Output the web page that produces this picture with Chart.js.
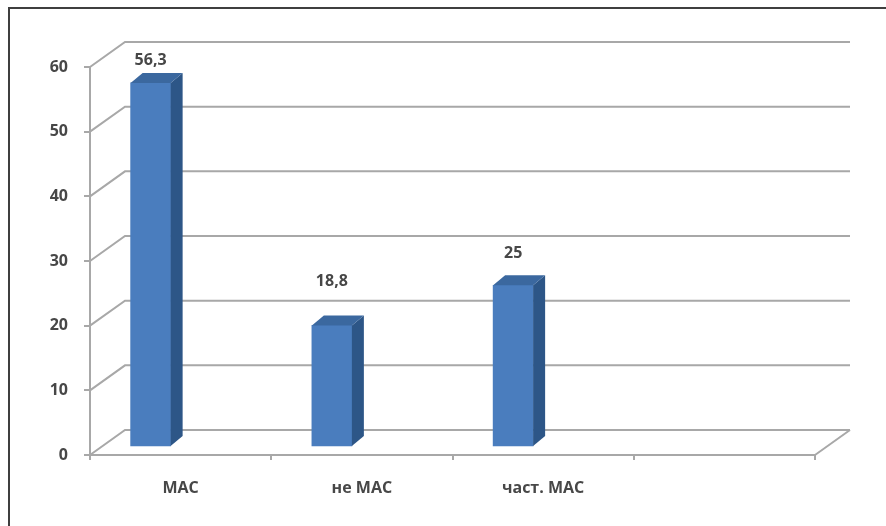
<!DOCTYPE html>
<html>
<head>
<meta charset="utf-8">
<script src="https://cdn.jsdelivr.net/npm/chart.js@4.4.1/dist/chart.umd.min.js"></script>
<style>
  html, body { margin: 0; padding: 0; background: #fff; }
  #wrap { position: relative; width: 886px; height: 526px; overflow: hidden; }
  #frame { position: absolute; left: 8px; top: 7px; right: -10px; bottom: -10px;
           border-left: 2px solid #3f3f3f; border-top: 2px solid #3f3f3f; pointer-events: none; }
  canvas { position: absolute; left: 0; top: 0; }
</style>
</head>
<body>
<div id="wrap">
  <canvas id="c" width="886" height="526"></canvas>
  <div id="frame"></div>
</div>
<script>
// Categories and values
const categories = ['МАС', 'не МАС', 'част. МАС', ''];
const values = [56.3, 18.8, 25, null];
const valueLabels = ['56,3', '18,8', '25'];
const yTickMin = 0, yTickMax = 60, yTickStep = 10;

// 3D look
const WALL_DX = 35, WALL_DY = -25;   // depth of the back wall
const BAR_SHIFT_X = -30, BAR_SHIFT_Y = -8; // bar row sits inside the depth
const BAR_DX = 12, BAR_DY = -10;     // bar depth
const labelLift = [22, 44, 32];      // how far each value label sits above its bar
const GRID = '#a8a8a8';
const TEXT = '#474747';
const FONT = '"Open Sans", Lato, sans-serif';

const threeD = {
  id: 'threeD',
  beforeDatasetsDraw(chart) {
    const { ctx, chartArea: a, scales: { y } } = chart;
    ctx.save();
    ctx.strokeStyle = GRID;
    ctx.lineWidth = 2;
    ctx.lineCap = 'butt';
    for (let v = yTickMin; v <= yTickMax; v += yTickStep) {
      const py = y.getPixelForValue(v);
      ctx.beginPath();
      ctx.moveTo(a.left, py);
      ctx.lineTo(a.left + WALL_DX, py + WALL_DY);
      ctx.lineTo(a.right + WALL_DX, py + WALL_DY);
      ctx.stroke();
    }
    // right edge of the floor
    const p0 = y.getPixelForValue(0);
    ctx.beginPath();
    ctx.moveTo(a.right, p0);
    ctx.lineTo(a.right + WALL_DX, p0 + WALL_DY);
    ctx.stroke();
    ctx.restore();
    // bars are drawn a little way back into the depth
    ctx.save();
    ctx.translate(BAR_SHIFT_X, BAR_SHIFT_Y);
  },
  afterDatasetsDraw(chart) {
    const { ctx } = chart;
    const meta = chart.getDatasetMeta(0);
    meta.data.forEach((bar, i) => {
      if (values[i] == null) return;
      const p = bar.getProps(['x', 'y', 'base', 'width'], true);
      const l = p.x - p.width / 2, r = p.x + p.width / 2;
      // side face
      ctx.fillStyle = '#2d5687';
      ctx.beginPath();
      ctx.moveTo(r, p.y);
      ctx.lineTo(r + BAR_DX, p.y + BAR_DY);
      ctx.lineTo(r + BAR_DX, p.base + BAR_DY);
      ctx.lineTo(r, p.base);
      ctx.closePath();
      ctx.fill();
      // top face
      ctx.fillStyle = '#3b689f';
      ctx.beginPath();
      ctx.moveTo(l, p.y);
      ctx.lineTo(l + BAR_DX, p.y + BAR_DY);
      ctx.lineTo(r + BAR_DX, p.y + BAR_DY);
      ctx.lineTo(r, p.y);
      ctx.closePath();
      ctx.fill();
      // value label
      ctx.fillStyle = TEXT;
      ctx.font = 'bold 16px ' + FONT;
      ctx.textAlign = 'center';
      ctx.textBaseline = 'middle';
      ctx.fillText(valueLabels[i], p.x, p.y - labelLift[i]);
    });
    ctx.restore();
  }
};

new Chart(document.getElementById('c'), {
  type: 'bar',
  data: {
    labels: categories,
    datasets: [{
      data: values,
      backgroundColor: (c) => {
        const { ctx, chartArea } = c.chart;
        if (!chartArea) return '#4a7dbe';
        const el = c.element;
        if (!el || el.width == null) return '#4a7dbe';
        const g = ctx.createLinearGradient(el.x - el.width / 2, 0, el.x + el.width / 2, 0);
        g.addColorStop(0, '#4f84c4');
        g.addColorStop(1, '#4678b6');
        return g;
      },
      borderWidth: 0,
      barThickness: 40,
      categoryPercentage: 1,
      barPercentage: 1
    }]
  },
  options: {
    responsive: false,
    animation: false,
    devicePixelRatio: 1,
    layout: { padding: { top: 67, right: 71, left: 0, bottom: 0 } },
    plugins: { legend: { display: false }, tooltip: { enabled: false } },
    scales: {
      x: {
        offset: true,
        afterFit(s) { s.height = 71; },
        border: { display: true, color: GRID, width: 2 },
        grid: { offset: true, drawOnChartArea: false, drawTicks: true, tickLength: 5, color: GRID, lineWidth: 2 },
        ticks: { color: TEXT, font: { family: FONT, size: 16, weight: 'bold' }, padding: 19, maxRotation: 0 }
      },
      y: {
        min: yTickMin, max: yTickMax,
        afterFit(s) { s.width = 90; },
        border: { display: true, color: GRID, width: 2 },
        grid: { drawOnChartArea: false, drawTicks: true, tickLength: 6, color: GRID, lineWidth: 2 },
        ticks: { stepSize: yTickStep, color: TEXT, font: { family: FONT, size: 16, weight: 'bold' }, padding: 16 }
      }
    }
  },
  plugins: [threeD]
});
</script>
</body>
</html>
